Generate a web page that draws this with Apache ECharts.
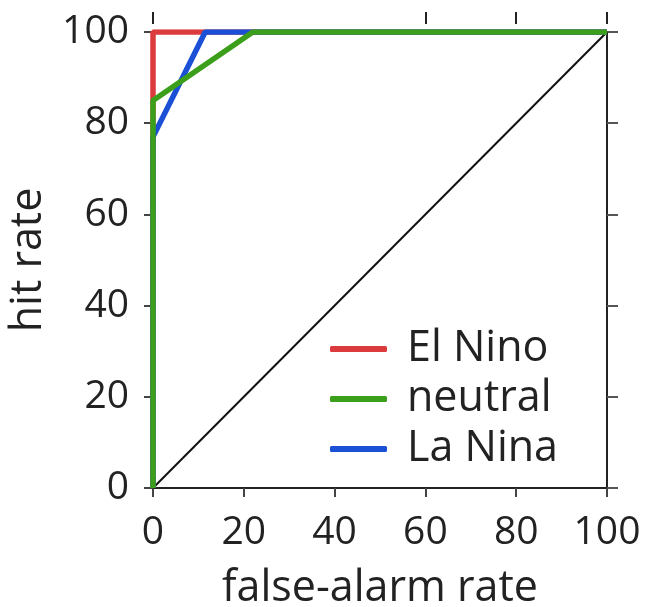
<!DOCTYPE html>
<html>
<head>
<meta charset="utf-8">
<script src="https://cdn.jsdelivr.net/npm/echarts@6/dist/echarts.min.js"></script>
<style>html,body{margin:0;padding:0;background:#fff}#c{width:646px;height:607px}</style>
</head>
<body>
<div id="c"></div>
<script>
const ticks = [0, 20, 40, 60, 80, 100];
const topTicks = [0, 60, 80, 100];
const elNino = [[0, 0], [0, 100], [100, 100]];
const neutral = [[0, 0], [0, 85], [22, 100], [100, 100]];
const laNina = [[0, 0], [0, 77], [11.5, 100], [100, 100]];
const diagonal = [[0, 0], [100, 100]];
const seriesNames = ['El Nino', 'neutral', 'La Nina'];

const FONT = 'Open Sans';
const chart = echarts.init(document.getElementById('c'));
const axisCommon = {
  type: 'value', min: 0, max: 100, interval: 20,
  splitLine: { show: false },
};
chart.setOption({
  animation: false,
  backgroundColor: '#fff',
  grid: { left: 153, right: 39, top: 32, bottom: 119, outerBoundsMode: 'none', containLabel: false },
  legend: {
    data: seriesNames,
    orient: 'vertical',
    left: 325, top: 322,
    icon: 'roundRect',
    itemWidth: 57, itemHeight: 6,
    itemGap: 6,
    textStyle: { fontFamily: FONT, fontSize: 43, color: '#222', lineHeight: 44, padding: [0, 0, 0, 15] }
  },
  xAxis: [
    Object.assign({}, axisCommon, {
      position: 'bottom',
      axisLine: { show: true, lineStyle: { color: '#222', width: 2 } },
      axisTick: { show: true, inside: false, length: 9, lineStyle: { color: '#444', width: 2 } },
      axisLabel: { fontFamily: FONT, fontSize: 39, color: '#222', margin: 25, customValues: ticks },
      name: 'false-alarm rate', nameLocation: 'middle', nameGap: 79,
      nameTextStyle: { fontFamily: FONT, fontSize: 43, color: '#222' }
    }),
    Object.assign({}, axisCommon, {
      position: 'top', offset: 8,
      axisLine: { show: false, onZero: false },
      axisTick: { show: true, length: 12, customValues: topTicks, lineStyle: { color: '#222', width: 2 } },
      axisLabel: { show: false }
    })
  ],
  yAxis: [
    Object.assign({}, axisCommon, {
      position: 'left',
      axisLine: { show: true, lineStyle: { color: '#222', width: 2 } },
      axisTick: { show: true, length: 9, lineStyle: { color: '#444', width: 2 } },
      axisLabel: { fontFamily: FONT, fontSize: 39, color: '#222', margin: 24, customValues: ticks }
    }),
    Object.assign({}, axisCommon, {
      position: 'right',
      axisLine: { show: true, onZero: false, lineStyle: { color: '#222', width: 2 } },
      axisTick: { show: true, length: 11, lineStyle: { color: '#555', width: 2 } },
      axisLabel: { show: false }
    })
  ],
  graphic: [{
    type: 'text', x: 29, y: 260, rotation: Math.PI / 2,
    style: { text: 'hit rate', fontFamily: FONT, fontSize: 43, fill: '#222', align: 'center', verticalAlign: 'middle' }
  }],
  series: [
    { type: 'line', data: diagonal, xAxisIndex: 1, yAxisIndex: 1, showSymbol: false, symbol: 'none', lineStyle: { color: '#111', width: 2 }, silent: true },
    { name: 'El Nino', type: 'line', data: elNino, symbol: 'none', color: '#dc3b3d', lineStyle: { width: 5.5 } },
    { name: 'La Nina', type: 'line', data: laNina, symbol: 'none', color: '#1a4fd6', lineStyle: { width: 5.5 } },
    { name: 'neutral', type: 'line', data: neutral, symbol: 'none', color: '#3c9f1c', lineStyle: { width: 5.5 } }
  ]
});
</script>
</body>
</html>
